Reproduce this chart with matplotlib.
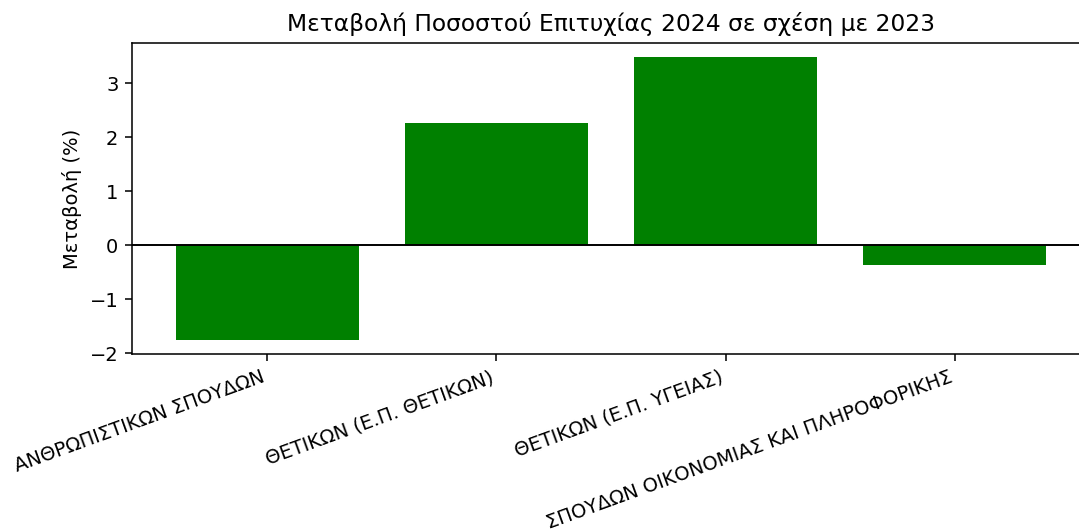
import matplotlib
matplotlib.use('Agg')
import matplotlib.pyplot as plt

## data
categories = ['ΑΝΘΡΩΠΙΣΤΙΚΩΝ ΣΠΟΥΔΩΝ',
              'ΘΕΤΙΚΩΝ (Ε.Π. ΘΕΤΙΚΩΝ)',
              'ΘΕΤΙΚΩΝ (Ε.Π. ΥΓΕΙΑΣ)',
              'ΣΠΟΥΔΩΝ ΟΙΚΟΝΟΜΙΑΣ ΚΑΙ ΠΛΗΡΟΦΟΡΙΚΗΣ']
change = [-1.75, 2.27, 3.48, -0.36]

DPI = 140
fig = plt.figure(figsize=(1079 / DPI, 532 / DPI), dpi=DPI)
## axes runs past the right edge, as in the cropped reference
ax = fig.add_axes([132 / 1079, 178 / 532, 958 / 1079, 311 / 532])

ax.bar(categories, change, color='green')
ax.axhline(0, color='black', linewidth=1)

ax.set_title('Μεταβολή Ποσοστού Επιτυχίας 2024 σε σχέση με 2023', fontsize=12)
ax.set_ylabel('Μεταβολή (%)')
plt.setp(ax.get_xticklabels(), rotation=20, ha='right')

fig.savefig('out.png', dpi=DPI)
